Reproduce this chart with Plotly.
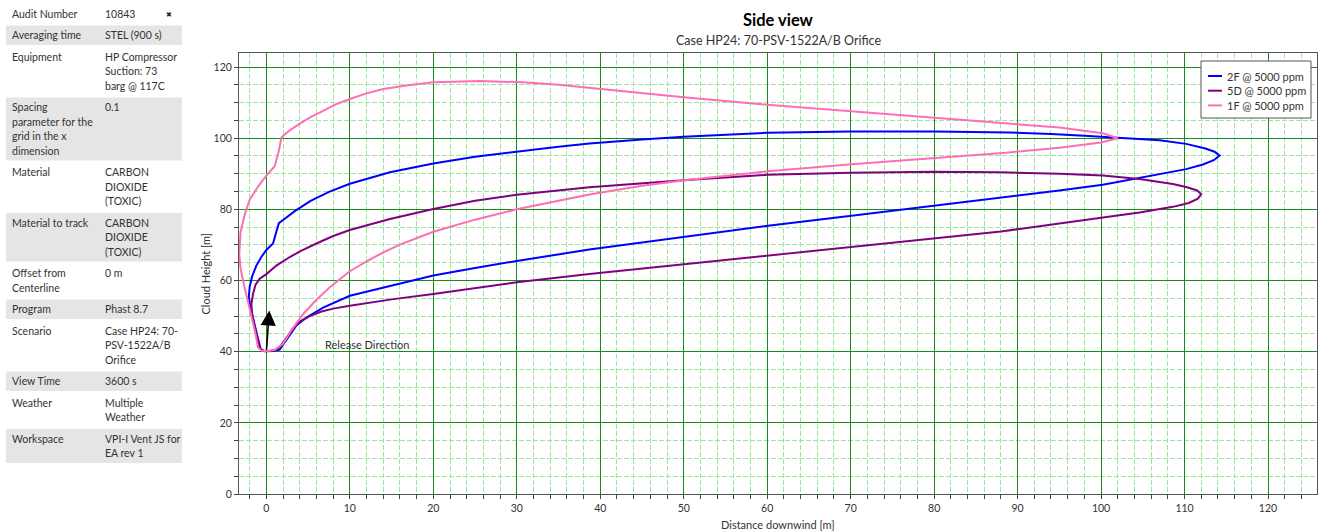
import plotly.graph_objects as go

# ---- dispersion envelopes (side view), distance downwind [m] vs cloud height [m]
series_names = ["2F @ 5000 ppm", "5D @ 5000 ppm", "1F @ 5000 ppm"]
series_colors = ["#0000ff", "#800080", "#ff6eb4"]

blue_x = [0.0, 0.8, 1.6, 2.1, 2.8, 3.6, 4.8, 6.8, 10.0, 14.8, 20.0, 25.0, 30.0, 38.7, 50.1, 60.1, 70.1,
          80.1, 88.0, 95.0, 100.2, 104.6, 108.0, 110.2, 112.2, 113.5, 114.2,
          113.6, 112.5, 110.2, 107.0, 104.0, 102.0, 98.0, 94.0, 89.0, 80.0, 70.0, 60.0, 50.0, 45.0,
          38.7, 35.0, 30.0, 25.0, 20.0, 14.8, 10.0, 7.5, 5.3, 3.4, 2.4, 1.5, 1.2, 0.8, 0.0, -0.6,
          -1.2, -1.7, -2.0, -2.1, -1.9, -1.6, -1.3, -1.0, -0.7, -0.3, 0.0]
blue_y = [40.1, 40.2, 40.6, 42.3, 45.0, 47.4, 49.6, 52.4, 55.7, 58.5, 61.4, 63.5, 65.5, 68.7, 72.3, 75.4, 78.2,
          81.0, 83.2, 85.3, 86.9, 88.8, 90.2, 91.3, 92.6, 93.8, 95.1,
          96.2, 97.1, 98.4, 99.4, 99.9, 100.2, 100.7, 101.2, 101.6, 101.9, 101.9, 101.5, 100.4, 99.6,
          98.5, 97.6, 96.3, 94.8, 92.9, 90.4, 87.2, 84.9, 82.4, 79.5, 77.7, 76.1, 73.8, 70.4, 68.6, 66.6,
          64.2, 61.2, 58.3, 55.5, 52.3, 49.5, 46.5, 43.2, 40.8, 40.2, 40.1]

purple_x = [0.0, 1.0, 1.6, 2.4, 3.2, 4.1, 5.2, 6.5, 8.0, 10.0, 15.0, 20.0, 25.0, 30.0, 38.7, 50.1, 60.1, 70.1,
            80.1, 88.0, 95.0, 100.2, 104.6, 108.6, 110.5, 111.6, 112.0,
            111.5, 110.3, 108.6, 106.5, 104.6, 100.2, 95.0, 88.0, 80.0, 70.0, 60.0, 50.0, 45.0, 38.7,
            30.0, 25.0, 20.0, 14.8, 10.0, 8.0, 6.0, 4.2, 2.8, 1.2, 0.0, -0.8, -1.3, -1.6, -1.8, -1.7,
            -1.4, -1.1, -0.8, -0.4, 0.0]
purple_y = [40.1, 40.4, 41.2, 44.0, 46.6, 48.6, 50.0, 51.2, 52.1, 52.9, 54.7, 56.2, 57.8, 59.5, 61.8, 64.6, 67.0, 69.3,
            71.8, 73.8, 76.0, 77.6, 79.1, 80.7, 81.8, 83.0, 84.3,
            85.3, 86.2, 87.1, 87.9, 88.5, 89.5, 90.0, 90.4, 90.6, 90.3, 89.7, 88.2, 87.4, 86.2,
            84.1, 82.4, 80.1, 77.3, 74.2, 72.5, 70.4, 68.4, 66.6, 64.2, 61.8, 60.5, 58.8, 56.2, 53.4, 50.5,
            47.0, 43.5, 41.0, 40.2, 40.1]

pink_x = [0.0, 1.0, 2.0, 3.0, 4.4, 6.0, 7.6, 10.0, 12.0, 14.0, 16.0, 18.0, 20.0, 25.0, 30.0, 38.7, 45.0, 50.1,
          60.1, 70.1, 80.1, 89.0, 95.0, 100.0, 102.0,
          100.2, 95.0, 90.0, 80.0, 70.0, 60.0, 50.0, 40.0, 35.0, 30.7, 25.6, 20.0, 17.0, 14.0, 12.0,
          10.0, 8.3, 6.8, 5.3, 4.0, 2.8, 1.8, 1.5, 1.0, 0.0, -1.0, -2.0, -2.6, -3.1, -3.25, -3.1,
          -2.8, -2.4, -2.0, -1.6, -1.3, -1.0, -0.6, 0.0]
pink_y = [40.1, 40.5, 42.2, 46.0, 50.6, 54.6, 58.1, 62.6, 65.4, 67.9, 70.1, 72.0, 73.7, 77.1, 80.0, 84.2, 86.6, 88.2,
          90.7, 92.7, 94.4, 96.0, 97.3, 98.8, 100.0,
          101.4, 103.0, 103.9, 105.7, 107.5, 109.4, 111.5, 113.9, 115.0, 115.7, 116.1, 115.7, 114.9, 113.8, 112.6,
          111.0, 109.5, 107.7, 105.9, 104.1, 102.2, 100.2, 96.5, 92.1, 89.5, 86.4, 82.7, 78.5, 73.5, 67.5, 63.5,
          60.0, 56.0, 52.4, 48.5, 45.0, 41.2, 40.3, 40.1]

series_x = [blue_x, purple_x, pink_x]
series_y = [blue_y, purple_y, pink_y]

# release point and direction
release_start = (0.0, 40.1)
release_end = (0.35, 51.6)
release_label = "Release Direction"

# ---- info panel
table_labels = [["Audit Number"], ["Averaging time"], ["Equipment"],
                ["Spacing", "parameter for the", "grid in the x", "dimension"],
                ["Material"], ["Material to track"], ["Offset from", "Centerline"],
                ["Program"], ["Scenario"], ["View Time"], ["Weather"], ["Workspace"]]
table_values = [["10843"], ["STEL (900 s)"], ["HP Compressor", "Suction: 73", "barg @ 117C"],
                ["0.1"], ["CARBON", "DIOXIDE", "(TOXIC)"], ["CARBON", "DIOXIDE", "(TOXIC)"],
                ["0 m"], ["Phast 8.7"], ["Case HP24: 70-", "PSV-1522A/B", "Orifice"],
                ["3600 s"], ["Multiple", "Weather"], ["VPI-I Vent JS for", "EA rev 1"]]

title_text = "Side view"
subtitle_text = "Case HP24: 70-PSV-1522A/B Orifice"
x_title = "Distance downwind [m]"
y_title = "Cloud Height [m]"

# ---- page geometry (pixels)
W, H = 1325, 531
PL, PT, PW, PH = 239, 53, 1078, 441
FONT = "Lato"
TXT = "#333333"


def px(xp):
    return (xp - PL) / PW


def py(yp):
    return (PT + PH - yp) / PH


fig = go.Figure()
for name, color, xs, ys in zip(series_names, series_colors, series_x, series_y):
    fig.add_trace(go.Scatter(x=xs, y=ys, mode="lines", name=name, showlegend=False,
                             line=dict(color=color, width=2)))

shapes = []
annotations = []

# release arrow
annotations.append(dict(x=release_end[0], y=release_end[1], ax=release_start[0], ay=release_start[1],
                        xref="x", yref="y", axref="x", ayref="y", text="", showarrow=True,
                        arrowhead=2, arrowsize=1.9, arrowwidth=1.6, arrowcolor="black"))
annotations.append(dict(x=6.8, y=42.0, xref="x", yref="y", text=release_label, showarrow=False,
                        xanchor="left", yanchor="middle", font=dict(family=FONT, size=11, color=TXT)))

# title block
annotations.append(dict(x=0.5, y=py(20), xref="paper", yref="paper", text="<b>%s</b>" % title_text,
                        showarrow=False, xanchor="center", yanchor="middle",
                        font=dict(family=FONT, size=16.5, color="black")))
annotations.append(dict(x=0.5, y=py(40), xref="paper", yref="paper", text=subtitle_text,
                        showarrow=False, xanchor="center", yanchor="middle",
                        font=dict(family=FONT, size=12.5, color=TXT)))

# axis titles
annotations.append(dict(x=0.5, y=py(524), xref="paper", yref="paper", text=x_title, showarrow=False,
                        xanchor="center", yanchor="middle", font=dict(family=FONT, size=11, color=TXT)))
annotations.append(dict(x=px(205), y=0.5, xref="paper", yref="paper", text=y_title, showarrow=False,
                        textangle=-90, xanchor="center", yanchor="middle",
                        font=dict(family=FONT, size=11, color=TXT)))

# legend box
lx0, ly0, lx1, ly1 = 1201, 61, 1311, 118
shapes.append(dict(type="rect", xref="paper", yref="paper", x0=px(lx0), x1=px(lx1), y0=py(ly1), y1=py(ly0),
                   line=dict(color="#555555", width=1), fillcolor="white", layer="above"))
for i, (name, color) in enumerate(zip(series_names, series_colors)):
    yy = 76 + 14.7 * i
    shapes.append(dict(type="line", xref="paper", yref="paper", x0=px(1208), x1=px(1222),
                       y0=py(yy), y1=py(yy), line=dict(color=color, width=2), layer="above"))
    annotations.append(dict(x=px(1225), y=py(yy), xref="paper", yref="paper", text=name, showarrow=False,
                            xanchor="left", yanchor="middle", font=dict(family=FONT, size=11, color=TXT)))

# info panel rows
top = 4.0
for i, (lab, val) in enumerate(zip(table_labels, table_values)):
    n = max(len(lab), len(val))
    h = 5 + 14.5 * n
    if i % 2 == 1:
        shapes.append(dict(type="rect", xref="paper", yref="paper", x0=px(6), x1=px(182),
                           y0=py(top + h), y1=py(top), line=dict(width=0), fillcolor="#e5e5e5",
                           layer="below"))
    for col_x, lines in ((10, lab), (103, val)):
        for k, t in enumerate(lines):
            annotations.append(dict(x=px(col_x), y=py(top + 9.8 + 14.5 * k), xref="paper", yref="paper",
                                    text=t, showarrow=False, xanchor="left", yanchor="middle",
                                    font=dict(family=FONT, size=10.5, color=TXT)))
    top += h + 2

annotations.append(dict(x=px(169), y=py(15), xref="paper", yref="paper", text="✖", showarrow=False,
                        xanchor="center", yanchor="middle", font=dict(family="DejaVu Sans", size=7, color="#222")))

axis_common = dict(showline=True, linecolor="#555555", linewidth=1, mirror=True,
                   ticks="outside", ticklen=4, tickcolor="#444444", zeroline=False,
                   tickfont=dict(family=FONT, size=10.5, color=TXT), automargin=False,
                   gridcolor="#1a8a1a", gridwidth=1)

fig.update_layout(
    width=W, height=H,
    margin=dict(l=PL, r=W - PL - PW, t=PT, b=H - PT - PH, pad=0, autoexpand=False),
    paper_bgcolor="white", plot_bgcolor="white",
    font=dict(family=FONT, color=TXT),
    xaxis=dict(range=[-3.28, 125.87], dtick=10, tick0=0,
               minor=dict(dtick=2, tick0=0, ticks="outside", ticklen=4, tickcolor="#444444",
                          showgrid=True, gridcolor="#9be89b", griddash="5px,2px", gridwidth=1),
               **axis_common),
    yaxis=dict(range=[0, 123.94], dtick=20, tick0=0,
               minor=dict(dtick=5, tick0=0, ticks="outside", ticklen=4, tickcolor="#444444",
                          showgrid=True, gridcolor="#9be89b", griddash="5px,2px", gridwidth=1),
               **axis_common),
    shapes=shapes,
    annotations=annotations,
)

fig.write_html("out.html")
